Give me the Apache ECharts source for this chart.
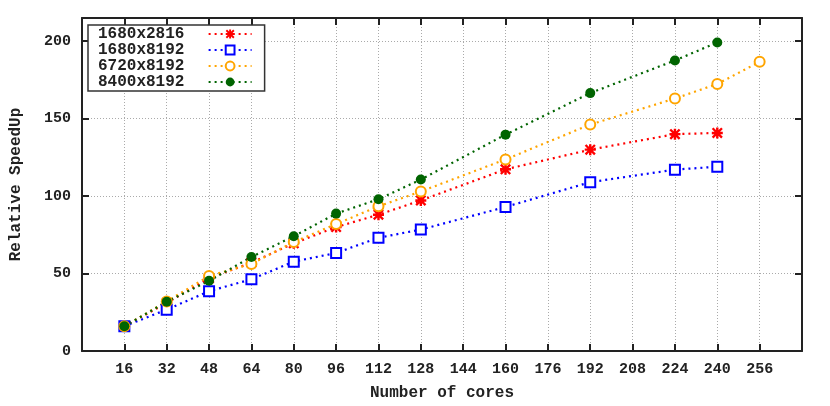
<!DOCTYPE html>
<html>
<head>
<meta charset="utf-8">
<script src="https://cdn.jsdelivr.net/npm/echarts@6.0.0/dist/echarts.min.js"></script>
<style>
  html, body { margin: 0; padding: 0; background: #fff; }
  #chart { width: 830px; height: 406px; }
</style>
</head>
<body>
<div id="chart"></div>
<script>
// datos
const cores = [16, 32, 48, 64, 80, 96, 112, 128, 160, 192, 224, 240];
const coresOrange = [16, 32, 48, 64, 80, 96, 112, 128, 160, 192, 224, 240, 256];
const xTicks = [16, 32, 48, 64, 80, 96, 112, 128, 144, 160, 176, 192, 208, 224, 240, 256];
const yTicks = [0, 50, 100, 150, 200];

const nombres = ['1680x2816', '1680x8192', '6720x8192', '8400x8192'];
const sp1680x2816 = [16, 31, 47, 57, 69.5, 80, 88, 97.2, 117.3, 130, 140, 140.8];
const sp1680x8192 = [16, 26.7, 38.6, 46.3, 57.7, 63.3, 73.1, 78.4, 93, 109, 117.1, 119];
const sp6720x8192 = [16, 32, 48.4, 56.2, 70.3, 82, 93.4, 103, 123.7, 146.2, 163, 172.4, 186.7];
const sp8400x8192 = [16, 31.8, 45.3, 60.7, 74.1, 88.7, 98, 110.7, 139.7, 166.5, 187.6, 199.2];

const fuente = 'Liberation Mono';
// asterisco relleno (gnuplot pt 3)
const asterisco = 'path://M0,1.5 L1.5,0 L10,8.5 L8.5,10 Z M8.5,0 L10,1.5 L1.5,10 L0,8.5 Z M3.9,0 L6.1,0 L6.1,10 L3.9,10 Z M0,3.9 L10,3.9 L10,6.1 L0,6.1 Z';

const chart = echarts.init(document.getElementById('chart'));

function serie(nombre, xs, ys, color, symbol, size, extra) {
  return Object.assign({
    name: nombre,
    type: 'line',
    data: xs.map((x, i) => [x, ys[i]]),
    symbol: symbol,
    symbolSize: size,
    showAllSymbol: true,
    color: color,
    lineStyle: { color: color, width: 2.2, type: [2, 4] },
    itemStyle: { color: color, borderColor: color, borderWidth: 2.2 },
    animation: false
  }, extra || {});
}

const ejeX = {
  type: 'value',
  min: 0,
  max: 272,
  interval: 16
};
const ejeY = {
  type: 'value',
  min: 0,
  max: 215,
  interval: 50
};

const option = {
  backgroundColor: '#fff',
  grid: { left: 79, right: 28, top: 18, bottom: 52, show: false },
  legend: {
    data: nombres,
    orient: 'vertical',
    left: 88,
    top: 25,
    align: 'right',
    itemWidth: 43,
    itemHeight: 11,
    itemGap: 0,
    padding: [1, 12, 1, 10],
    backgroundColor: '#fff',
    borderColor: '#333',
    borderWidth: 1.5,
    borderRadius: 0,
    formatter: n => n + '  ',
    textStyle: { fontFamily: fuente, fontSize: 16, fontWeight: 'bold', color: '#222', lineHeight: 16 }
  },
  xAxis: [
    Object.assign({}, ejeX, {
      position: 'bottom',
      name: 'Number of cores',
      nameLocation: 'middle',
      nameGap: 34,
      nameTextStyle: { fontFamily: fuente, fontSize: 16, fontWeight: 'bold', color: '#222' },
      axisLine: { show: true, onZero: false, lineStyle: { color: '#222', width: 2 } },
      axisTick: { show: true, inside: true, length: 7, lineStyle: { color: '#222', width: 2 } },
      axisLabel: {
        margin: 11,
        fontFamily: fuente, fontSize: 15, fontWeight: 'bold', color: '#222',
        formatter: v => xTicks.indexOf(v) >= 0 ? String(v) : ''
      },
      splitLine: { show: true, lineStyle: { color: '#aaa', width: 1, type: [1, 2] } }
    }),
    Object.assign({}, ejeX, {
      position: 'top',
      axisLine: { show: true, onZero: false, lineStyle: { color: '#222', width: 2 } },
      axisTick: { show: true, inside: true, length: 7, lineStyle: { color: '#222', width: 2 } },
      axisLabel: { show: false },
      splitLine: { show: false }
    })
  ],
  yAxis: [
    Object.assign({}, ejeY, {
      position: 'left',
      name: 'Relative SpeedUp',
      nameLocation: 'middle',
      nameGap: 58,
      nameTextStyle: { fontFamily: fuente, fontSize: 16, fontWeight: 'bold', color: '#222' },
      axisLine: { show: true, onZero: false, lineStyle: { color: '#222', width: 2 } },
      axisTick: { show: true, inside: true, length: 7, lineStyle: { color: '#222', width: 2 } },
      axisLabel: {
        margin: 11,
        fontFamily: fuente, fontSize: 15, fontWeight: 'bold', color: '#222',
        formatter: v => yTicks.indexOf(v) >= 0 ? String(v) : ''
      },
      splitLine: { show: true, lineStyle: { color: '#aaa', width: 1, type: [1, 2] } }
    }),
    Object.assign({}, ejeY, {
      position: 'right',
      axisLine: { show: true, onZero: false, lineStyle: { color: '#222', width: 2 } },
      axisTick: { show: true, inside: true, length: 7, lineStyle: { color: '#222', width: 2 } },
      axisLabel: { show: false },
      splitLine: { show: false }
    })
  ],
  series: [
    serie(nombres[0], cores, sp1680x2816, '#ff0000', asterisco, 11, { itemStyle: { color: '#ff0000', borderWidth: 0 } }),
    serie(nombres[1], cores, sp1680x8192, '#0000ff', 'emptyRect', 10),
    serie(nombres[2], coresOrange, sp6720x8192, '#ffa500', 'emptyCircle', 10),
    serie(nombres[3], cores, sp8400x8192, '#006400', 'circle', 10, { itemStyle: { color: '#006400', borderWidth: 0 } })
  ]
};

chart.setOption(option);
window.addEventListener('resize', () => chart.resize());
</script>
</body>
</html>
